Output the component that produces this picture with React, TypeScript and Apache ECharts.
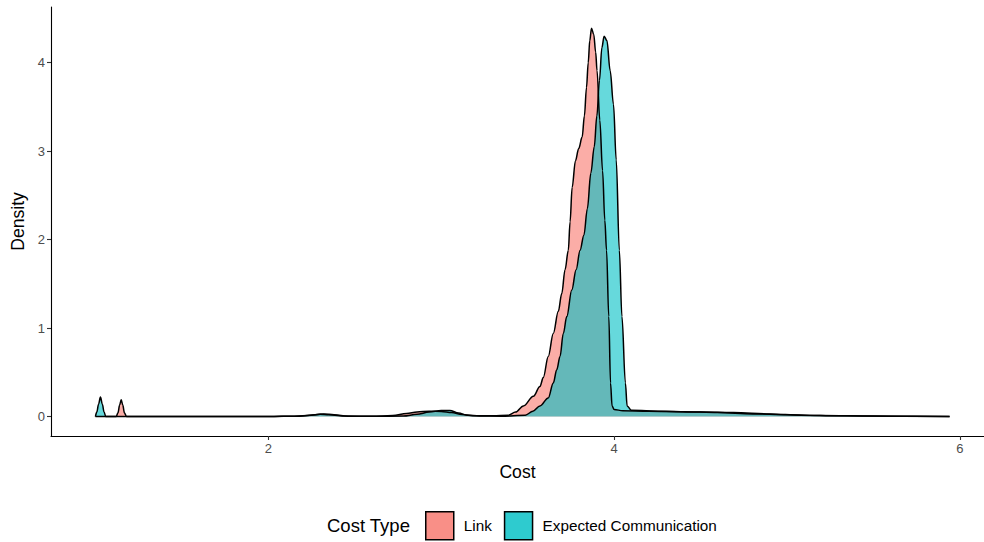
import React, { useEffect, useRef } from "react";
import * as echarts from "echarts";

// Kernel density estimates of cost, one curve per cost type
const linkCost = [
  1.0, 1.12, 1.13, 1.14, 1.149, 1.158, 1.168, 1.18, 2.0, 2.15, 2.25, 2.3, 2.35, 2.45, 2.6, 2.72, 2.8,
  2.86, 2.93, 3.0, 3.06, 3.12, 3.2, 3.3, 3.388, 3.43, 3.475, 3.533, 3.571, 3.59, 3.619, 3.648, 3.677,
  3.697, 3.716, 3.735, 3.745, 3.757, 3.776, 3.795, 3.815, 3.828, 3.84, 3.85, 3.859, 3.869, 3.882,
  3.893, 3.901, 3.917, 3.933, 3.946, 3.956, 3.969, 3.979, 3.988, 4.0, 4.05, 4.2, 4.4, 4.6, 4.8, 5.0,
  5.2, 5.5, 5.94,
];
const linkDensity = [
  0, 0, 0.04, 0.13, 0.19, 0.13, 0.04, 0, 0, 0.004, 0.015, 0.025, 0.02, 0.006, 0.003, 0.012, 0.035,
  0.052, 0.06, 0.058, 0.045, 0.022, 0.008, 0.008, 0.015, 0.05, 0.12, 0.23, 0.34, 0.44, 0.68, 0.94, 1.19,
  1.39, 1.66, 1.88, 2.2, 2.59, 2.89, 3.03, 3.16, 3.4, 3.72, 4.0, 4.25, 4.39, 4.32,
  4.12, 3.91, 3.35, 2.78, 2.22, 1.88, 1.13, 0.38, 0.12, 0.08, 0.065, 0.06, 0.055, 0.045, 0.03, 0.02,
  0.012, 0.006, 0,
];

const commCost = [
  1.0, 1.008, 1.018, 1.029, 1.04, 1.05, 1.06, 2.0, 2.18, 2.27, 2.32, 2.38, 2.46, 2.6, 2.78, 2.86, 2.93,
  3.0, 3.05, 3.1, 3.15, 3.22, 3.35, 3.486, 3.53, 3.571, 3.619, 3.648, 3.668, 3.687, 3.706, 3.726,
  3.755, 3.78, 3.803, 3.825, 3.845, 3.865, 3.885, 3.9, 3.915, 3.929, 3.942, 3.958, 3.977, 3.996,
  4.012, 4.03, 4.045, 4.065, 4.075, 4.1, 4.27, 4.5, 4.69, 4.9, 5.08, 5.3, 5.6, 5.94,
];
const commDensity = [
  0, 0.05, 0.14, 0.22, 0.14, 0.05, 0, 0, 0.004, 0.02, 0.03, 0.02, 0.004, 0.002, 0.006, 0.025, 0.05,
  0.068, 0.068, 0.04, 0.015, 0.006, 0.004, 0.015, 0.06, 0.12, 0.21, 0.38, 0.53, 0.68, 0.94, 1.13,
  1.43, 1.66, 1.88, 2.05, 2.35, 2.75, 3.05, 3.4, 3.8, 4.17, 4.3, 4.25, 3.91, 3.53,
  2.9, 1.88, 1.13, 0.38, 0.12, 0.07, 0.06, 0.05, 0.045, 0.03, 0.015, 0.008, 0.004, 0,
];

const costTypes = ["Link", "Expected Communication"];
const xTicks = [2, 4, 6];
const yTicks = [0, 1, 2, 3, 4];

const FONT = "'Liberation Sans', Arial, Helvetica, sans-serif";
const AREA = ["rgba(248,118,109,0.6)", "rgba(0,191,196,0.6)"];
const KEY = ["rgba(248,118,109,0.82)", "rgba(0,191,196,0.82)"];

const pairs = (xs: number[], ys: number[]) => xs.map((x, i) => [x, ys[i]]);

export default function App() {
  const ref = useRef<HTMLDivElement>(null);

  useEffect(() => {
    if (!ref.current) return;
    const chart = echarts.init(ref.current, undefined, { renderer: "svg" });

    const curves = [pairs(linkCost, linkDensity), pairs(commCost, commDensity)];

    chart.setOption({
      animation: false,
      backgroundColor: "#ffffff",
      grid: { left: 51, right: 0, top: 7, bottom: 106, containLabel: false },
      xAxis: {
        type: "value",
        min: 0.743,
        max: 6.139,
        name: "Cost",
        nameLocation: "middle",
        nameGap: 27,
        nameTextStyle: { fontFamily: FONT, fontSize: 17.6, color: "#000" },
        axisLine: { show: true, onZero: false, lineStyle: { color: "#000", width: 1.1 } },
        axisTick: { show: true, length: 4, customValues: xTicks, lineStyle: { color: "#333", width: 1.1 } },
        axisLabel: {
          customValues: xTicks,
          margin: 6,
          fontFamily: FONT,
          fontSize: 13,
          color: "#4d4d4d",
        },
        splitLine: { show: false },
      },
      yAxis: {
        type: "value",
        min: -0.22,
        max: 4.63,
        name: "Density",
        nameLocation: "middle",
        nameGap: 21,
        nameTextStyle: { fontFamily: FONT, fontSize: 17.6, color: "#000" },
        axisLine: { show: true, onZero: false, lineStyle: { color: "#000", width: 1.1 } },
        axisTick: { show: true, length: 4, customValues: yTicks, lineStyle: { color: "#333", width: 1.1 } },
        axisLabel: {
          customValues: yTicks,
          margin: 6,
          fontFamily: FONT,
          fontSize: 13,
          color: "#4d4d4d",
        },
        splitLine: { show: false },
      },
      legend: {
        left: 425,
        top: 511,
        padding: 0,
        icon: "rect",
        itemWidth: 28,
        itemHeight: 28,
        itemGap: 12,
        selectedMode: false,
        textStyle: { fontFamily: FONT, fontSize: 15.3, color: "#000", padding: [0, 0, 0, 5] },
        data: costTypes.map((name, i) => ({
          name,
          itemStyle: { color: KEY[i], borderColor: "#000", borderWidth: 1.5 },
        })),
      },
      graphic: [
        {
          type: "text",
          left: 327,
          top: 516,
          style: { text: "Cost Type", fontFamily: FONT, fontSize: 18.5, fill: "#000" },
        },
      ],
      series: costTypes.map((name, i) => ({
        name,
        type: "line",
        data: curves[i],
        showSymbol: false,
        symbol: "none",
        smooth: 0.35,
        smoothMonotone: "x",
        color: KEY[i],
        lineStyle: { color: "#000", width: 1.5 },
        areaStyle: { color: AREA[i], opacity: 1, origin: 0 },
        emphasis: { disabled: true },
        silent: true,
      })),
    });

    return () => chart.dispose();
  }, []);

  return (
    <div
      ref={ref}
      style={{ position: "fixed", left: 0, top: 0, width: 984, height: 542, background: "#fff" }}
    />
  );
}
